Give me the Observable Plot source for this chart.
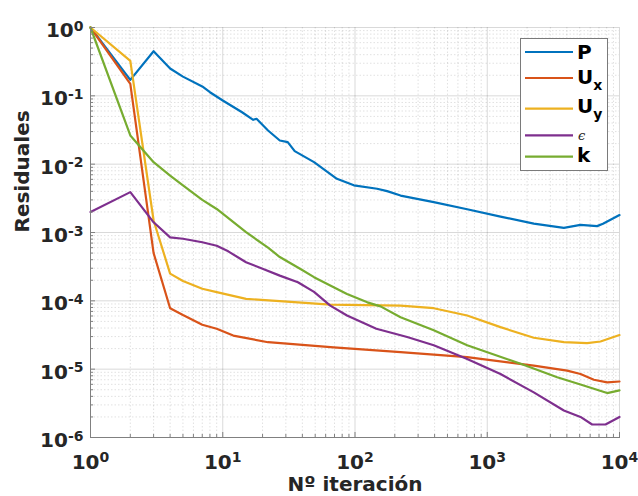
<!DOCTYPE html>
<html><head><meta charset="utf-8">
<script src="https://cdn.jsdelivr.net/npm/d3@7"></script>
<script src="https://cdn.jsdelivr.net/npm/@observablehq/plot@0.6"></script>
<style>
body{margin:0;background:#fff;}
#wrap{position:relative;width:638px;height:496px;font-family:"DejaVu Sans",sans-serif;}
#legend{position:absolute;left:520px;top:38px;}
</style></head><body><div id="wrap"></div>
<script>
const pIter = [1,2,3,4,5,7,8,10,14,17,18,22,27,31,35,49,73,98,147,175,221,394,705,1259,2249,3795,5070,6770,7500,10000];
const pVal  = [1,0.171,0.450,0.251,0.191,0.137,0.113,0.0855,0.0575,0.0446,0.0461,0.0311,0.0222,0.0210,0.0155,0.0107,0.0061,0.00490,0.00437,0.00403,0.00347,0.00278,0.00219,0.00171,0.00135,0.00117,0.00129,0.00124,0.00134,0.00180];
const uxIter = [1,2,3,4,5,7,9,12,22,69,221,705,2249,4020,5070,6400,8070,10000];
const uxVal  = [1,0.150,5.0e-4,7.8e-5,6.2e-5,4.47e-5,3.9e-5,3.1e-5,2.48e-5,2.09e-5,1.78e-5,1.50e-5,1.13e-5,9.5e-6,8.5e-6,7.0e-6,6.4e-6,6.6e-6];
const uyIter = [1,2,3,4,5,7,9,15,27,65,221,394,705,1259,2249,3795,5690,7180,10000];
const uyVal  = [1,0.324,1.5e-3,2.5e-4,1.95e-4,1.50e-4,1.34e-4,1.07e-4,9.9e-5,8.8e-5,8.5e-5,7.8e-5,6.1e-5,4.12e-5,2.88e-5,2.48e-5,2.40e-5,2.54e-5,3.16e-5];
const epsIter = [1,2,3,4,5,7,9,11,15,20,27,37,49,65,87,145,248,394,705,1259,2249,3795,5070,6210,7840,10000];
const epsVal  = [2.0e-3,3.9e-3,1.41e-3,8.5e-4,8.1e-4,7.2e-4,6.4e-4,5.3e-4,3.67e-4,2.95e-4,2.34e-4,1.87e-4,1.35e-4,8.5e-5,6.1e-5,3.9e-5,2.95e-5,2.24e-5,1.41e-5,8.5e-6,4.57e-6,2.48e-6,2.0e-6,1.55e-6,1.55e-6,2.0e-6];
const kIter = [1,2,3,4,5,7,9,15,22,27,39,49,69,87,124,156,221,394,705,1790,3380,5070,8070,10000];
const kVal  = [1,0.0263,0.0107,6.8e-3,4.9e-3,3.0e-3,2.21e-3,1.01e-3,6.0e-4,4.37e-4,2.9e-4,2.22e-4,1.58e-4,1.26e-4,9.5e-5,8.3e-5,5.75e-5,3.7e-5,2.24e-5,1.2e-5,7.6e-6,5.96e-6,4.47e-6,4.9e-6];

const seriesNames = ["P","Ux","Uy","eps","k"];
const seriesColors = ["#0072BD","#D95319","#EDB120","#7E2F8E","#77AC30"];
const xMajorTicks = [1,10,100,1000,10000];
const yMajorTicks = [1e-6,1e-5,1e-4,1e-3,1e-2,1e-1,1];
const xLabel = "Nº iteración";
const yLabel = "Residuales";

function rows(name, xs, ys){ return xs.map((x,i)=>({series:name, x, y:ys[i]})); }
const data = [
  ...rows("P",pIter,pVal), ...rows("Ux",uxIter,uxVal), ...rows("Uy",uyIter,uyVal),
  ...rows("eps",epsIter,epsVal), ...rows("k",kIter,kVal)
];
const minorX = []; for (let k=0;k<4;k++) for (let m=2;m<10;m++) minorX.push(m*10**k);
const minorY = []; for (let k=-6;k<0;k++) for (let m=2;m<10;m++) minorY.push(m*10**k);

const fmt = d => "10^" + Math.round(Math.log10(d));
const ink = "#262626";
const axisGray = "#808080";
const W=638,H=496,ML=90,MR=19,MT=27,MB=59;
const FW=W-ML-MR, FH=H-MT-MB;

const chart = Plot.plot({
  width:W, height:H, marginLeft:ML, marginRight:MR, marginTop:MT, marginBottom:MB,
  style:{fontFamily:"DejaVu Sans", color:ink, background:"#fff", overflow:"visible"},
  x:{type:"log", domain:[1,1e4]},
  y:{type:"log", domain:[1e-6,1]},
  color:{domain:seriesNames, range:seriesColors},
  marks:[
    Plot.gridX(minorX,{stroke:"#000",strokeOpacity:0.12,strokeDasharray:"1.5,2"}),
    Plot.gridY(minorY,{stroke:"#000",strokeOpacity:0.12,strokeDasharray:"1.5,2"}),
    Plot.gridX(xMajorTicks,{stroke:"#000",strokeOpacity:0.15}),
    Plot.gridY(yMajorTicks,{stroke:"#000",strokeOpacity:0.15}),
    Plot.line(data,{x:"x",y:"y",z:"series",stroke:"series",strokeWidth:2.2,strokeLinejoin:"round"}),
    Plot.ruleX(minorX,{stroke:axisGray,insetTop:FH-3}),
    Plot.ruleX(xMajorTicks,{stroke:axisGray,insetTop:FH-5}),
    Plot.ruleY(minorY,{stroke:axisGray,insetRight:FW-3}),
    Plot.ruleY(yMajorTicks,{stroke:axisGray,insetRight:FW-5}),
    Plot.frame({anchor:"left",stroke:axisGray}),
    Plot.frame({anchor:"bottom",stroke:axisGray}),
    Plot.axisX(xMajorTicks,{tickSize:0,tickPadding:17,tickFormat:fmt,fontSize:20,fontWeight:"bold",fill:ink,label:null}),
    Plot.axisY(yMajorTicks,{tickSize:0,tickPadding:7,tickFormat:fmt,fontSize:20,fontWeight:"bold",fill:ink,label:null,dy:3}),
    Plot.text([xLabel],{text:d=>d,frameAnchor:"bottom",lineAnchor:"middle",dy:47,fontSize:20,fontWeight:"bold",fill:ink}),
    Plot.text([yLabel],{text:d=>d,frameAnchor:"left",lineAnchor:"middle",dx:-68,rotate:-90,fontSize:20,fontWeight:"bold",fill:ink})
  ]
});

const ns = "http://www.w3.org/2000/svg";
chart.querySelectorAll("text").forEach(t => {
  const m = (t.textContent||"").match(/^10\^(-?\d+)$/);
  if (!m) return;
  t.textContent = "";
  const a = document.createElementNS(ns,"tspan"); a.textContent = "10";
  const b = document.createElementNS(ns,"tspan"); b.textContent = m[1];
  b.setAttribute("dy","-0.45em"); b.setAttribute("font-size","14");
  t.append(a,b);
});
document.getElementById("wrap").appendChild(chart);

// legend
const legendLabels = [["P",""],["U","x"],["U","y"],["ϵ",""],["k",""]];
const legY = [14,40,70.7,97.3,118.7];
const legBase = [21,46,75,102,124];
const lg = document.createElementNS(ns,"svg");
lg.setAttribute("id","legend"); lg.setAttribute("width","88"); lg.setAttribute("height","133");
let html = `<rect x="0.5" y="0.5" width="87" height="132" fill="#fff" stroke="#7a7a7a" stroke-width="1"/>`;
seriesNames.forEach((s,i)=>{
  html += `<line x1="5" x2="53" y1="${legY[i]}" y2="${legY[i]}" stroke="${seriesColors[i]}" stroke-width="2.2"/>`;
  const [main,sub] = legendLabels[i];
  if (s==="eps") {
    html += `<text x="58" y="${legBase[i]}" font-family="DejaVu Serif" font-style="italic" font-size="13" fill="${ink}">${main}</text>`;
  } else {
    html += `<text x="57" y="${legBase[i]}" font-family="DejaVu Sans" font-weight="bold" font-size="20" fill="#000">${main}${sub?`<tspan dy="6" font-size="14">${sub}</tspan>`:""}</text>`;
  }
});
lg.innerHTML = html;
document.getElementById("wrap").appendChild(lg);
</script></body></html>
